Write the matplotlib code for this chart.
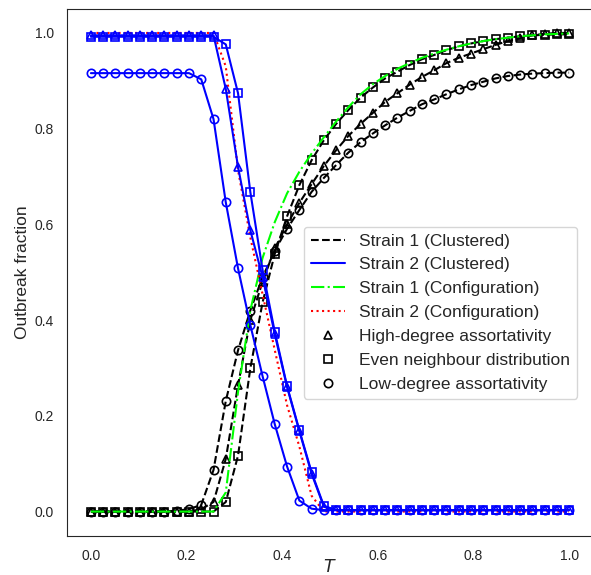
import numpy as np
import matplotlib
matplotlib.use('Agg')
import matplotlib.pyplot as plt
import seaborn as sns
from matplotlib.lines import Line2D

sns.set_style('white')
plt.rcParams['font.family'] = ['Liberation Sans', 'DejaVu Sans']

# transmissibility grid
T = np.linspace(0, 1, 40)

# strain 1, clustered networks
high_s1 = [0.0, 0.0, 0.0, 0.0, 0.0, 0.0, 0.0, 0.0, 0.0, 0.005,
           0.02, 0.11, 0.264, 0.40, 0.48, 0.55, 0.60, 0.645, 0.684, 0.722,
           0.755, 0.785, 0.81, 0.833, 0.856, 0.874, 0.892, 0.908, 0.922, 0.937,
           0.948, 0.957, 0.966, 0.975, 0.983, 0.989, 0.995, 0.998, 1.0, 1.0]
even_s1 = [0.0, 0.0, 0.0, 0.0, 0.0, 0.0, 0.0, 0.0, 0.0, 0.0,
           0.0, 0.02, 0.117, 0.299, 0.437, 0.539, 0.617, 0.682, 0.734, 0.776,
           0.81, 0.839, 0.865, 0.886, 0.905, 0.919, 0.933, 0.945, 0.954, 0.964,
           0.972, 0.978, 0.983, 0.987, 0.99, 0.993, 0.995, 0.996, 0.997, 0.997]
low_s1 = [0.0, 0.0, 0.0, 0.0, 0.0, 0.0, 0.0, 0.002, 0.005, 0.014,
          0.087, 0.231, 0.337, 0.42, 0.49, 0.545, 0.591, 0.63, 0.668, 0.697,
          0.724, 0.75, 0.772, 0.79, 0.807, 0.823, 0.837, 0.851, 0.861, 0.872,
          0.882, 0.891, 0.898, 0.905, 0.91, 0.913, 0.915, 0.916, 0.917, 0.917]

# strain 2, clustered networks
high_s2 = [0.995] * 11 + [0.883, 0.72, 0.588, 0.49, 0.37, 0.26, 0.168, 0.079, 0.01] + [0.003] * 20
even_s2 = [0.992] * 11 + [0.976, 0.874, 0.668, 0.505, 0.375, 0.262, 0.17, 0.082, 0.012] + [0.003] * 20
low_s2 = [0.916] * 9 + [0.903, 0.82, 0.646, 0.508, 0.39, 0.283, 0.182, 0.094, 0.023, 0.006] + [0.003] * 21

# configuration model
config_s1 = [0.0] * 11 + [0.04, 0.25, 0.42, 0.53, 0.605, 0.665, 0.71, 0.748, 0.782,
                          0.815, 0.845, 0.872, 0.893, 0.91, 0.925, 0.937, 0.948, 0.957, 0.965,
                          0.972, 0.978, 0.983, 0.987, 0.99, 0.993, 0.995, 0.997, 0.998, 0.999]
config_s2 = [1.0] * 11 + [0.93, 0.713, 0.573, 0.454, 0.337, 0.222, 0.136, 0.033] + [0.0] * 21

fig = plt.figure(figsize=(5.91, 5.75), dpi=100)
ax = fig.add_axes([67 / 591, 39.5 / 575, 526 / 591, 526.5 / 575])

mk = dict(markersize=6, markerfacecolor='none', markeredgewidth=1.2)
lw = 1.5

# strain 1 clustered (black dashed)
ax.plot(T, high_s1, 'k--', marker='^', lw=lw, **mk)
ax.plot(T, even_s1, 'k--', marker='s', lw=lw, **mk)
ax.plot(T, low_s1, 'k--', marker='o', lw=lw, **mk)

# configuration model
ax.plot(T, config_s1, color='lime', ls='-.', lw=lw)
ax.plot(T, config_s2, color='red', ls=':', lw=lw)

# strain 2 clustered (blue solid)
ax.plot(T, high_s2, 'b-', marker='^', lw=lw, **mk)
ax.plot(T, even_s2, 'b-', marker='s', lw=lw, **mk)
ax.plot(T, low_s2, 'b-', marker='o', lw=lw, **mk)

ax.set_xlim(-0.05, 1.05)
ax.set_ylim(-0.05, 1.05)
ax.set_xticks([0.0, 0.2, 0.4, 0.6, 0.8, 1.0])
ax.set_yticks([0.0, 0.2, 0.4, 0.6, 0.8, 1.0])
ax.tick_params(axis='x', labelsize=10, pad=6)
ax.tick_params(axis='y', labelsize=10, pad=6)
ax.set_xlabel('$T$', fontsize=12.5)
ax.xaxis.set_label_coords(0.5, -0.043)
ax.set_ylabel('Outbreak fraction', fontsize=12.5, labelpad=3)

handles = [
    Line2D([], [], color='k', ls='--', lw=lw),
    Line2D([], [], color='b', ls='-', lw=lw),
    Line2D([], [], color='lime', ls='-.', lw=lw),
    Line2D([], [], color='red', ls=':', lw=lw),
    Line2D([], [], color='k', ls='none', marker='^', **mk),
    Line2D([], [], color='k', ls='none', marker='s', **mk),
    Line2D([], [], color='k', ls='none', marker='o', **mk),
]
labels = ['Strain 1 (Clustered)', 'Strain 2 (Clustered)',
          'Strain 1 (Configuration)', 'Strain 2 (Configuration)',
          'High-degree assortativity', 'Even neighbour distribution',
          'Low-degree assortativity']
ax.legend(handles, labels, loc='center right', bbox_to_anchor=(0.97, 0.4235),
          borderaxespad=0, fontsize=12.5)

plt.savefig('out.png', dpi=100)
